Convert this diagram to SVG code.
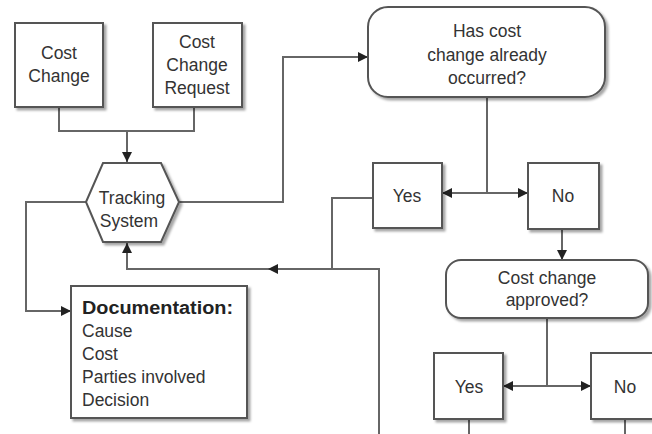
<svg xmlns="http://www.w3.org/2000/svg" width="652" height="434" viewBox="0 0 652 434">
  <defs>
    <marker id="arrow" viewBox="0 0 10 10" refX="10" refY="5" markerWidth="10" markerHeight="10" markerUnits="userSpaceOnUse" orient="auto">
      <path d="M0,0 L10,5 L0,10 Z" fill="#222"/>
    </marker>
    <filter id="shadow" x="-10%" y="-10%" width="130%" height="130%">
      <feDropShadow dx="2.5" dy="2.5" stdDeviation="1.2" flood-color="#000" flood-opacity="0.35"/>
    </filter>
  </defs>
  <style>
    .shape { fill: #fff; stroke: #555; stroke-width: 2; filter: url(#shadow); }
    .link { fill: none; stroke: #666; stroke-width: 2; }
    .arr { marker-end: url(#arrow); }
    text { font-family: "Liberation Sans", Arial, sans-serif; font-size: 17.5px; fill: #333; }
    .mid { text-anchor: middle; }
    .bold { font-weight: bold; fill: #222; }
  </style>
  <rect width="652" height="434" fill="#fff"/>

  <!-- connectors -->
  <g id="connectors">
    <path class="link" d="M59 107 V131 H194 V107"/>
    <path class="link arr" d="M127 131 V162"/>
    <path class="link arr" d="M179 202 H283 V57 H368"/>
    <path class="link" d="M487 97 V193"/>
    <path class="link arr" d="M487 193 H442"/>
    <path class="link arr" d="M487 193 H528"/>
    <path class="link" d="M373 198 H332 V269"/>
    <path class="link arr" d="M379 434 V269 H268"/>
    <path class="link arr" d="M268 269 H127 V243"/>
    <path class="link arr" d="M86 202 H26 V311 H71"/>
    <path class="link arr" d="M562 229 V260"/>
    <path class="link" d="M547 318 V386"/>
    <path class="link arr" d="M547 386 H503"/>
    <path class="link arr" d="M547 386 H591"/>
    <path class="link" d="M469 419 V434"/>
    <path class="link" d="M625 419 V434"/>
  </g>

  <g id="cost-change">
    <rect class="shape" x="15" y="23" width="88" height="84"/>
    <text class="mid" x="59" y="59">Cost</text>
    <text class="mid" x="59" y="82">Change</text>
  </g>

  <g id="cost-change-request">
    <rect class="shape" x="153" y="23" width="89" height="84"/>
    <text class="mid" x="197" y="48">Cost</text>
    <text class="mid" x="197" y="71">Change</text>
    <text class="mid" x="197" y="94">Request</text>
  </g>

  <g id="tracking-system">
    <polygon class="shape" points="86,202 103,163 161,163 179,202 161,242 103,242"/>
    <text class="mid" x="132" y="204">Tracking</text>
    <text class="mid" x="129" y="227">System</text>
  </g>

  <g id="already-occurred">
    <rect class="shape" x="368" y="7" width="237" height="90" rx="20" ry="20"/>
    <text class="mid" x="487" y="37">Has cost</text>
    <text class="mid" x="487" y="61">change already</text>
    <text class="mid" x="487" y="84">occurred?</text>
  </g>

  <g id="occurred-yes">
    <rect class="shape" x="373" y="163" width="69" height="65"/>
    <text class="mid" x="407" y="202">Yes</text>
  </g>

  <g id="occurred-no">
    <rect class="shape" x="528" y="163" width="71" height="66"/>
    <text class="mid" x="563" y="202">No</text>
  </g>

  <g id="documentation">
    <rect class="shape" x="71" y="286" width="176" height="132"/>
    <text class="bold" x="82" y="314" textLength="151" lengthAdjust="spacingAndGlyphs">Documentation:</text>
    <text x="82" y="337">Cause</text>
    <text x="82" y="360">Cost</text>
    <text x="82" y="383">Parties involved</text>
    <text x="82" y="406">Decision</text>
  </g>

  <g id="approved">
    <rect class="shape" x="446" y="260" width="202" height="58" rx="15" ry="15"/>
    <text class="mid" x="547" y="284">Cost change</text>
    <text class="mid" x="547" y="306">approved?</text>
  </g>

  <g id="approved-yes">
    <rect class="shape" x="434" y="353" width="69" height="66"/>
    <text class="mid" x="469" y="393">Yes</text>
  </g>

  <g id="approved-no">
    <rect class="shape" x="591" y="353" width="69" height="66"/>
    <text class="mid" x="625" y="393">No</text>
  </g>
</svg>
